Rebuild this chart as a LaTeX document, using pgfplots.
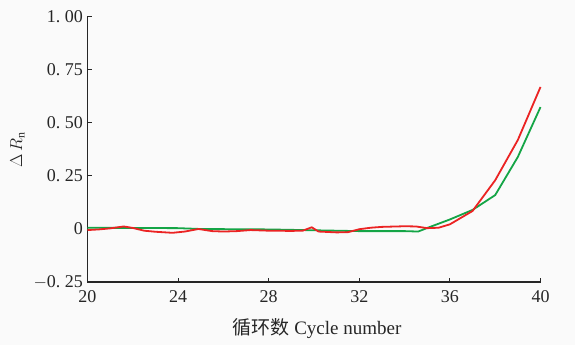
\documentclass[border=0pt]{standalone}
\usepackage{fontspec}
\setmainfont{Liberation Serif}
\newfontfamily\cjk{Noto Sans CJK SC}
\usepackage{pgfplots}
\pgfplotsset{compat=1.18}
\definecolor{cgreen}{RGB}{20,165,70}
\definecolor{cred}{RGB}{235,35,35}
\definecolor{bg}{RGB}{250,250,250}
\begin{document}
\begin{tikzpicture}[x=1pt,y=1pt]
\fill[bg] (-87.5,-63) rectangle (487.5,282);
\begin{axis}[name=ax,at={(0,0)},anchor=south west,
  scale only axis, width=453pt, height=265pt,
  xmin=20, xmax=40, ymin=-0.25, ymax=1.0,
  axis x line*=bottom, axis y line*=left,
  axis line style={line width=1.2pt, black!85},
  tick align=inside, major tick length=4pt,
  tick style={line width=1pt, black!85},
  xtick={20,24,28,32,36,40},
  ytick={-0.25,0,0.25,0.5,0.75,1},
  yticklabels={$-$0.\ 25,0,0.\ 25,0.\ 50,0.\ 75,1.\ 00},
  /pgf/number format/assume math mode=true,
  ticklabel style={font=\fontsize{18}{18}\selectfont, text=black!85},
  xticklabel style={yshift=-5pt},
  yticklabel style={xshift=-1pt},
  xlabel={{\cjk 循环数}\ Cycle number},
  xlabel style={font=\fontsize{19}{19}\selectfont, text=black!85, yshift=-9pt, xshift=3pt},
  ylabel={$\Delta\,R_{\mathrm{n}}$},
  ylabel style={font=\fontsize{17}{17}\selectfont, text=black!85, yshift=2pt},
  clip=false,
]
\addplot[cgreen, line width=1.8pt] coordinates {
(20,0.006) (22,0.005) (24,0.004) (25,0.0) (28,-0.002) (30,-0.006) (31,-0.008)
(32,-0.01) (33,-0.01) (34,-0.01) (34.6,-0.012) (35,0.005) (36,0.045) (37,0.09)
(38,0.16) (39,0.34) (40,0.575)};
\addplot[cred, line width=1.8pt] coordinates {
(20,-0.005) (20.5,-0.002) (21,0.003) (21.6,0.012) (22,0.005) (22.5,-0.008) (23,-0.013)
(23.75,-0.018) (24.3,-0.012) (24.9,0.0) (25.5,-0.01) (26,-0.012) (26.6,-0.01)
(27.2,-0.005) (28,-0.008) (29,-0.009) (29.5,-0.008) (29.9,0.008) (30.2,-0.012)
(31,-0.016) (31.5,-0.015) (32,-0.001) (32.5,0.006) (33,0.01) (34,0.013) (34.5,0.012)
(35,0.004) (35.5,0.006) (36,0.022) (37,0.085) (38,0.23) (39,0.42) (40,0.67)};
\end{axis}
\end{tikzpicture}
\end{document}
